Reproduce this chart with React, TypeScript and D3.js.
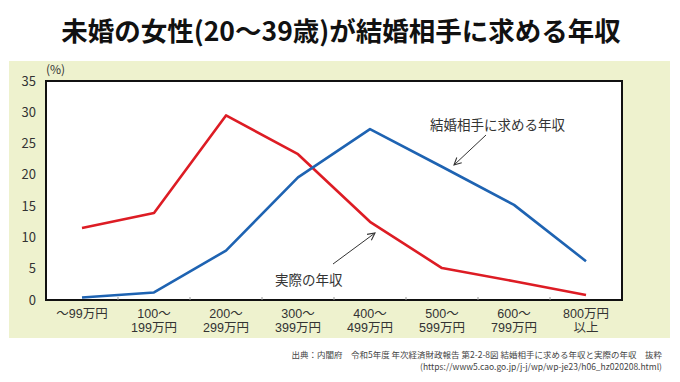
import React from "react";
import * as d3 from "d3";

const categories = [
  ["～99万円"],
  ["100～", "199万円"],
  ["200～", "299万円"],
  ["300～", "399万円"],
  ["400～", "499万円"],
  ["500～", "599万円"],
  ["600～", "799万円"],
  ["800万円", "以上"],
];
const actualIncome = [11.5, 13.9, 29.5, 23.3, 12.5, 5.1, 3.0, 0.8];
const desiredIncome = [0.4, 1.2, 7.9, 19.6, 27.3, 21.3, 15.2, 6.2];
const yTicks = [0, 5, 10, 15, 20, 25, 30, 35];

const W = 680;
const H = 382;
const plot = { left: 46, right: 622, top: 81, bottom: 300 };
const FONT = "'Noto Sans CJK JP', 'Noto Sans', sans-serif";
const LABEL_FONT = "'Liberation Sans', 'Noto Sans CJK JP', sans-serif";

export default function App() {
  const idx = categories.map((_, i) => String(i));
  const x = d3.scaleBand<string>().domain(idx).range([plot.left, plot.right]);
  const y = d3.scaleLinear().domain([0, 35]).range([plot.bottom, plot.top]);
  const cx = (i: number) => (x(String(i)) as number) + x.bandwidth() / 2;
  const line = d3
    .line<number>()
    .x((_, i) => cx(i))
    .y((d) => y(d));

  return (
    <svg
      width={W}
      height={H}
      style={{ position: "absolute", left: 0, top: 0, background: "#fff" }}
      fontFamily={FONT}
    >
      <defs>
        <marker id="arr" viewBox="0 0 10 10" refX="9" refY="5" markerWidth="9" markerHeight="9" orient="auto">
          <path d="M1,1 L9,5 L1,9" fill="none" stroke="#333" strokeWidth="1.2" />
        </marker>
      </defs>
      <text x={341} y={41} textAnchor="middle" fontSize={26.5} fontWeight={700} fill="#111">
        未婚の女性(20～39歳)が結婚相手に求める年収
      </text>
      <rect x={9} y={61} width={661} height={277} fill="#EEF2CE" />
      <rect
        x={plot.left}
        y={plot.top}
        width={plot.right - plot.left}
        height={plot.bottom - plot.top}
        fill="#fff"
        stroke="#111"
        strokeWidth={2}
      />
      {idx.slice(1).map((k) => (
        <line key={k} x1={x(k)} x2={x(k)} y1={plot.bottom} y2={plot.bottom - 3} stroke="#999" strokeWidth={1} />
      ))}
      <text x={46} y={74} fontSize={12} fill="#333">(%)</text>
      {yTicks.map((t) => (
        <text key={t} x={36} y={y(t) + 4.5} textAnchor="end" fontSize={13} fill="#333">
          {t}
        </text>
      ))}
      {categories.map((c, i) =>
        c.map((s, j) => (
          <text
            key={`${i}-${j}`}
            x={cx(i)}
            y={318 + j * 13.5}
            textAnchor="middle"
            fontSize={12.5}
            fontFamily={LABEL_FONT}
            fill="#333"
          >
            {s}
          </text>
        ))
      )}
      <path d={line(actualIncome) || ""} fill="none" stroke="#DD1C24" strokeWidth={2.6} strokeLinejoin="round" />
      <path d={line(desiredIncome) || ""} fill="none" stroke="#1E63B2" strokeWidth={2.6} strokeLinejoin="round" />
      <text x={430} y={130} fontSize={13.5} fill="#333">結婚相手に求める年収</text>
      <line x1={486} y1={135} x2={454} y2={165} stroke="#333" strokeWidth={1} markerEnd="url(#arr)" />
      <text x={275} y={285} fontSize={13.5} fill="#333">実際の年収</text>
      <line x1={333} y1={264} x2={375} y2={233} stroke="#333" strokeWidth={1} markerEnd="url(#arr)" />
      <text x={662} y={358} textAnchor="end" fontSize={8.5} fill="#444">
        出典：内閣府　令和5年度 年次経済財政報告 第2-2-8図 結婚相手に求める年収と実際の年収　抜粋
      </text>
      <text x={662} y={370} textAnchor="end" fontSize={8.5} fill="#444">
        (https://www5.cao.go.jp/j-j/wp/wp-je23/h06_hz020208.html)
      </text>
    </svg>
  );
}
